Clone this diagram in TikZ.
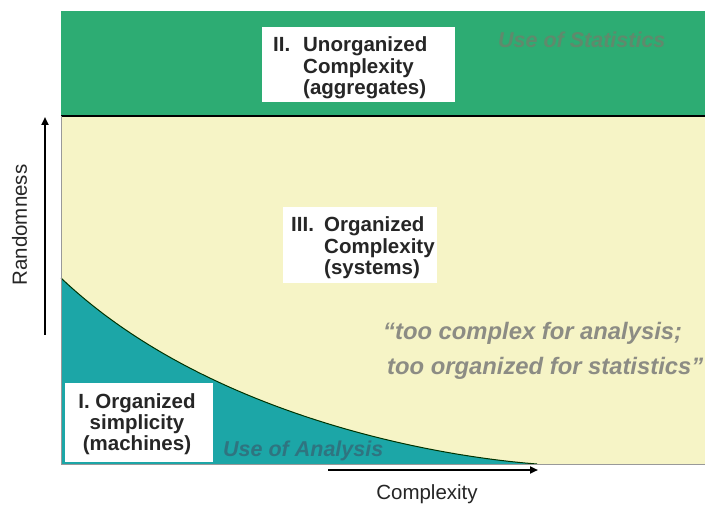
\documentclass[tikz,border=0pt]{standalone}
\usepackage{fontspec}
\setmainfont{Liberation Sans}
\usetikzlibrary{arrows.meta}
\definecolor{topgreen}{HTML}{2DAC73}
\definecolor{paleyellow}{HTML}{F6F4C6}
\definecolor{tealfill}{HTML}{1CA6A7}
\definecolor{greytext}{HTML}{8C8C84}
\definecolor{stattext}{HTML}{5F8A6C}
\definecolor{tealtext}{HTML}{2F7480}
\definecolor{boxtext}{HTML}{262626}
\tikzset{
  whitebox/.style={fill=white, draw=none, inner sep=0pt},
  boxfont/.style={font=\fontsize{20.5}{21.5}\selectfont\bfseries, text=boxtext, inner sep=0pt},
  axisarrow/.style={line width=2.2pt, -{Triangle[length=8pt,width=7pt]}},
  note/.style={font=\fontsize{21.5}{24}\selectfont\bfseries\itshape, inner sep=0pt},
  quote/.style={font=\fontsize{23.8}{28}\selectfont\bfseries\itshape, text=greytext, inner sep=0pt},
  axislabel/.style={font=\fontsize{20.5}{22}\selectfont, text=boxtext, inner sep=0pt}
}
\begin{document}
\begin{tikzpicture}[x=1pt,y=-1pt]
\useasboundingbox (0,0) rectangle (705,505);
\fill[white] (0,0) rectangle (705,505);
% regions
\fill[topgreen] (61,11) rectangle (705,116);
\fill[paleyellow] (61,116) rectangle (705,464);
\fill[tealfill] (61,278) .. controls (200,410) and (420,455) .. (537,464) -- (61,464) -- cycle;
\draw[black!80!green, line width=1pt] (61,278) .. controls (200,410) and (420,455) .. (537,464);
\draw[black, line width=1.8pt] (61,116) -- (705,116);
\draw[black!40, line width=0.6pt] (61,116) -- (61,464) -- (705,464);
% boxes
\node[whitebox, minimum width=193pt, minimum height=75pt] (b2) at (358.5,64.5) {};
\node[whitebox, minimum width=154pt, minimum height=76pt] (b3) at (360,245) {};
\node[whitebox, minimum width=148pt, minimum height=79pt] (b1) at (139,422.5) {};
\node[boxfont, anchor=base west] (t2) at (273,52) {\begin{tabular}[t]{@{}p{30pt}@{}l@{}}II. & Unorganized\\ & Complexity\\ & (aggregates)\end{tabular}};
\node[boxfont, anchor=base west] (t3) at (291,232) {\begin{tabular}[t]{@{}p{33pt}@{}l@{}}III. & Organized\\ & Complexity\\ & (systems)\end{tabular}};
\node[boxfont, anchor=base] (t1) at (137,408) {\begin{tabular}[t]{@{}c@{}}I. Organized\\simplicity\\(machines)\end{tabular}};
% notes
\node[note, text=stattext, anchor=base west] (stat) at (498,48) {Use of Statistics};
\node[note, text=tealtext, anchor=base west] (anal) at (223,456) {Use of Analysis};
\node[quote, anchor=base west] (q1) at (383,340) {“too complex for analysis;};
\node[quote, anchor=base west] (q2) at (387,375) {too organized for statistics”};
% axes
\coordinate (ya) at (45,335);
\coordinate (yb) at (45,117);
\coordinate (xa) at (328,470);
\coordinate (xb) at (538,470);
\draw[axisarrow] (ya) -- (yb);
\draw[axisarrow] (xa) -- (xb);
\node[axislabel, rotate=90, anchor=base] (ylab) at (27,225) {Randomness};
\node[axislabel, anchor=base] (xlab) at (427,499) {Complexity};
\end{tikzpicture}
\end{document}
